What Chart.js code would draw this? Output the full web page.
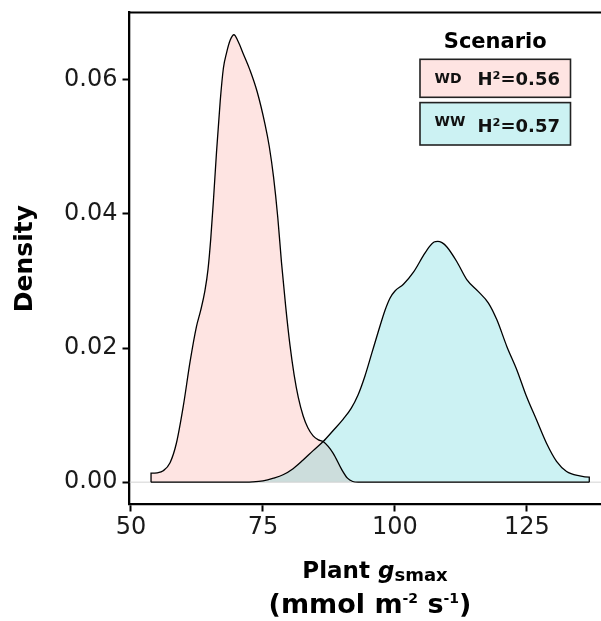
<!DOCTYPE html>
<html>
<head>
<meta charset="utf-8">
<title>Plant gsmax density</title>
<script src="https://cdn.jsdelivr.net/npm/chart.js@4.4.1/dist/chart.umd.min.js"></script>
<style>
  html, body { margin: 0; padding: 0; background: #fff; overflow: hidden; }
  #wrap { width: 601px; height: 621px; }
</style>
</head>
<body>
<div id="wrap"><canvas id="densityChart" width="601" height="621"></canvas></div>
<script>
// Kernel density of plant gsmax, one curve per watering scenario
const wdX = [53.8, 53.8, 55.0, 56.1, 57.4, 58.6, 59.9, 61.2, 62.4, 63.2, 64.0, 64.6, 65.1, 65.6, 66.2, 66.9, 67.5,
  68.1, 68.8, 69.5, 70.3, 71.3, 72.5, 73.9, 75.4, 76.2, 77.0, 77.8, 78.5, 79.3, 80.1, 80.9, 81.7, 82.6, 83.5, 84.5,
  85.5, 86.4, 88.3, 89.9, 91.0, 92.0, 93.0, 100.0, 136.8];
const wdDensity = [0, 0.00134, 0.0014, 0.0017, 0.0029, 0.0058, 0.0113, 0.018, 0.0232, 0.0256, 0.0285, 0.0318, 0.0362,
  0.0418, 0.0492, 0.0568, 0.0617, 0.064, 0.0659, 0.0667, 0.0657, 0.0638, 0.0615, 0.0582, 0.0533, 0.05, 0.0455,
  0.0395, 0.0328, 0.0262, 0.0205, 0.016, 0.0126, 0.0099, 0.0081, 0.0069, 0.0063, 0.00605, 0.0043, 0.0019, 0.0006,
  0.0001, 0, 0, 0];

const wwX = [53.8, 70.0, 73.0, 75.0, 77.0, 78.8, 80.7, 82.6, 84.5, 86.4, 88.3, 90.2, 91.7, 93.0, 94.3, 95.6, 96.9,
  98.1, 99.1, 100.0, 101.6, 103.5, 105.4, 106.6, 107.4, 108.1, 108.9, 109.8, 111.7, 113.6, 115.8, 117.7, 119.3,
  121.2, 123.1, 124.9, 126.8, 128.7, 130.6, 132.5, 135.0, 136.8, 136.8];
const wwDensity = [0, 0, 0.00005, 0.0002, 0.0006, 0.0011, 0.002, 0.0033, 0.0047, 0.00605, 0.0077, 0.0094, 0.011,
  0.013, 0.0158, 0.0192, 0.0226, 0.0256, 0.0275, 0.0285, 0.0295, 0.0313, 0.0338, 0.0352, 0.0358, 0.0359, 0.0357,
  0.0351, 0.0329, 0.0302, 0.0284, 0.0267, 0.0242, 0.0202, 0.0167, 0.0128, 0.0093, 0.0058, 0.0031, 0.0016, 0.00094,
  0.00075, 0];

const scenarios = ['WD', 'WW'];
const heritability = [0.56, 0.57];
const scenarioFill = ['rgba(248, 118, 109, 0.2)', 'rgba(0, 191, 196, 0.2)'];

const xTicks = [50, 75, 100, 125];
const yTicks = [0, 0.02, 0.04, 0.06];

const FONT = '"DejaVu Sans", "Liberation Sans", sans-serif';
const X_MIN = 49.72, X_MAX = 139.02;
const Y_MIN = -0.00333, Y_MAX = 0.07;

const toPoints = (xs, ys) => xs.map((x, i) => ({ x: x, y: ys[i] }));

// draw a row of text pieces with different fonts, centred on cx
function drawRun(ctx, parts, cx, baseline) {
  let total = 0;
  parts.forEach(p => {
    ctx.font = p.font;
    p.w = ctx.measureText(p.text).width;
    total += p.w;
  });
  let x = cx - total / 2;
  parts.forEach(p => {
    ctx.font = p.font;
    ctx.fillText(p.text, x, baseline + (p.dy || 0));
    x += p.w;
  });
}

const panelDecor = {
  id: 'panelDecor',
  afterDraw(chart) {
    const { ctx, chartArea } = chart;
    const { left, right, top } = chartArea;
    ctx.save();

    // top edge of the panel
    ctx.strokeStyle = '#000';
    ctx.lineWidth = 2;
    ctx.beginPath();
    ctx.moveTo(left - 1, top);
    ctx.lineTo(right, top);
    ctx.stroke();

    // x axis title on two lines
    ctx.fillStyle = '#000';
    ctx.textAlign = 'left';
    ctx.textBaseline = 'alphabetic';
    drawRun(ctx, [
      { text: 'Plant ', font: 'bold 23px ' + FONT },
      { text: 'g', font: 'italic bold 23px ' + FONT },
      { text: 'smax', font: 'bold 18px ' + FONT, dy: 3 }
    ], 375, 578);
    drawRun(ctx, [
      { text: '(mmol m', font: 'bold 27px ' + FONT },
      { text: '-2', font: 'bold 14px ' + FONT, dy: -10 },
      { text: ' s', font: 'bold 27px ' + FONT },
      { text: '-1', font: 'bold 14px ' + FONT, dy: -10 },
      { text: ')', font: 'bold 27px ' + FONT }
    ], 370, 613);

    // legend
    const boxL = right - 181, boxR = right - 30.5;
    ctx.textAlign = 'center';
    ctx.font = 'bold 21px ' + FONT;
    ctx.fillText('Scenario', (boxL + boxR) / 2, top + 35.5);

    const boxes = [
      { y0: top + 46.7, y1: top + 84.7, labelBase: top + 70.7, valueBase: top + 72.4 },
      { y0: top + 90, y1: top + 132.4, labelBase: top + 113.4, valueBase: top + 119 }
    ];
    scenarios.forEach((name, i) => {
      const b = boxes[i];
      ctx.fillStyle = '#fff';
      ctx.fillRect(boxL, b.y0, boxR - boxL, b.y1 - b.y0);
      ctx.fillStyle = scenarioFill[i];
      ctx.fillRect(boxL, b.y0, boxR - boxL, b.y1 - b.y0);
      ctx.strokeStyle = '#222';
      ctx.lineWidth = 1.6;
      ctx.strokeRect(boxL, b.y0, boxR - boxL, b.y1 - b.y0);

      ctx.fillStyle = '#111';
      ctx.textAlign = 'left';
      ctx.font = 'bold 14px ' + FONT;
      ctx.fillText(name, boxL + 14.5, b.labelBase);
      ctx.textAlign = 'right';
      ctx.font = 'bold 18px ' + FONT;
      ctx.fillText('H\u00B2=' + heritability[i].toFixed(2), boxR - 10.5, b.valueBase);
    });

    ctx.restore();
  }
};

// fixed axis sizes so the plot panel sits at the same place every time
function fixHeight(scale) {
  scale.height = 116.5;
  scale.paddingLeft = scale.paddingRight = 0;
}
function fixWidth(scale) {
  scale.width = 129.5;
  scale.paddingTop = scale.paddingBottom = 0;
}

const ctx = document.getElementById('densityChart').getContext('2d');

new Chart(ctx, {
  type: 'line',
  data: {
    datasets: [{
      label: 'zero',
      data: [{ x: X_MIN, y: 0 }, { x: X_MAX, y: 0 }],
      borderColor: '#d4d4d4',
      borderWidth: 1,
      pointRadius: 0,
      fill: false,
      order: 3
    }, {
      label: scenarios[0],
      data: toPoints(wdX, wdDensity),
      borderColor: '#000',
      borderWidth: 1.3,
      backgroundColor: scenarioFill[0],
      fill: 'origin',
      cubicInterpolationMode: 'monotone',
      pointRadius: 0,
      order: 2
    }, {
      label: scenarios[1],
      data: toPoints(wwX, wwDensity),
      borderColor: '#000',
      borderWidth: 1.3,
      backgroundColor: scenarioFill[1],
      fill: 'origin',
      cubicInterpolationMode: 'monotone',
      pointRadius: 0,
      order: 1
    }]
  },
  options: {
    responsive: false,
    animation: false,
    events: [],
    layout: { padding: { top: 12.6, right: 0, bottom: 0, left: 0 } },
    plugins: {
      legend: { display: false },
      tooltip: { enabled: false },
      filler: { drawTime: 'beforeDatasetsDraw' }
    },
    scales: {
      x: {
        type: 'linear',
        min: X_MIN,
        max: X_MAX,
        afterBuildTicks: scale => { scale.ticks = xTicks.map(v => ({ value: v })); },
        afterFit: fixHeight,
        ticks: {
          color: '#1a1a1a',
          font: { family: FONT, size: 24 },
          padding: 2,
          maxRotation: 0,
          callback: v => String(v)
        },
        grid: { drawOnChartArea: false, color: '#000', tickColor: '#000', tickLength: 7, tickWidth: 2 },
        border: { display: true, color: '#000', width: 2.3 },
        title: { display: false }
      },
      y: {
        type: 'linear',
        min: Y_MIN,
        max: Y_MAX,
        afterBuildTicks: scale => { scale.ticks = yTicks.map(v => ({ value: v })); },
        afterFit: fixWidth,
        ticks: {
          color: '#1a1a1a',
          font: { family: FONT, size: 24 },
          padding: 5,
          callback: v => Number(v).toFixed(2)
        },
        grid: { drawOnChartArea: false, color: '#000', tickColor: '#000', tickLength: 7, tickWidth: 2 },
        border: { display: true, color: '#000', width: 2.3 },
        title: {
          display: true,
          text: 'Density',
          color: '#000',
          font: { family: FONT, size: 25, weight: 'bold' },
          padding: { top: 10, bottom: 0 }
        }
      }
    }
  },
  plugins: [panelDecor]
});
</script>
</body>
</html>
